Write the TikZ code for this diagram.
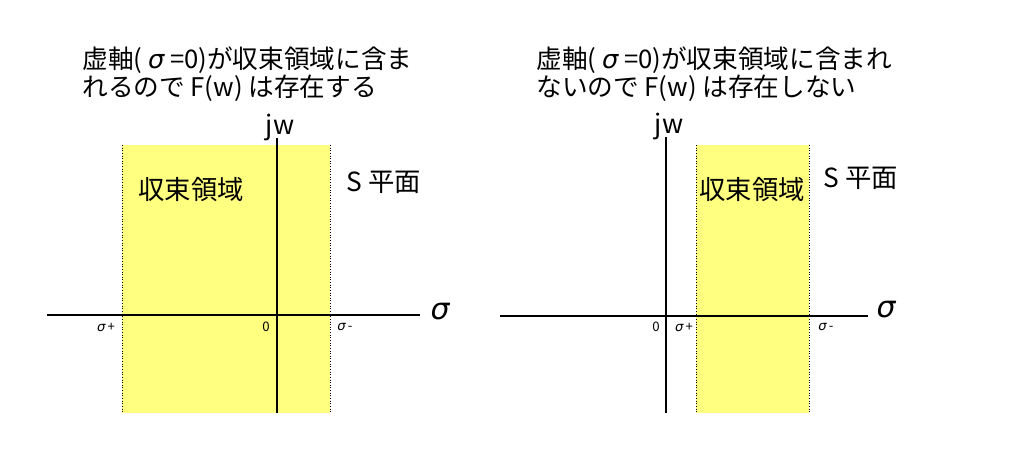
\documentclass[tikz,border=0pt]{standalone}
\usepackage{fontspec}
\setmainfont{Noto Sans CJK JP}
\newfontfamily\greekfont{DejaVu Sans}
\definecolor{roc}{RGB}{255,255,128}
\newcommand{\sig}{{\greekfont\itshape σ}}

\begin{document}
\begin{tikzpicture}[x=0.02cm, y=-0.02cm,
    title/.style={align=left, anchor=west, inner sep=0pt, font=\fontsize{14.6}{16}\selectfont},
    region/.style={fill=roc, draw=none},
    border/.style={densely dotted, line width=0.5pt},
    axis/.style={line width=0.6pt},
    small/.style={font=\fontsize{7.5}{8}\selectfont, inner sep=0pt},
    big/.style={font=\fontsize{15}{16}\selectfont, inner sep=0pt}]
    \useasboundingbox (0,0) rectangle (1021,454);
    % left plane
    \fill[region] (122,145) rectangle (330,413);
    \coordinate (lt1) at (122,145);
    \coordinate (lb1) at (122,413);
    \coordinate (lt2) at (330,145);
    \coordinate (lb2) at (330,413);
    \coordinate (lx1) at (47,315);
    \coordinate (lx2) at (420,315);
    \coordinate (ly1) at (277,138);
    \coordinate (ly2) at (277,413);
    \draw[border] (lt1) -- (lb1);
    \draw[border] (lt2) -- (lb2);
    \draw[axis] (lx1) -- (lx2);
    \draw[axis] (ly1) -- (ly2);
    \node[title] (ltitle) at (82,74) {虚軸( \sig\ =0)が収束領域に含ま\\れるので F(w) は存在する};
    \node[big, font=\fontsize{17}{17}\selectfont] (lsig) at (440,312) {\sig};
    \node[big, anchor=base] (ljw) at (280,134) {jw};
    \node[big] (lroc) at (191,190) {収束領域};
    \node[big] (ls) at (384,182) {S 平面};
    \node[small] (lzero) at (266,327) {0};
    \node[small] (lplus) at (106,327) {\sig\,+};
    \node[small] (lminus) at (345,327) {\sig\,-};
    % right plane
    \fill[region] (696,145) rectangle (809,413);
    \coordinate (rt1) at (696,145);
    \coordinate (rb1) at (696,413);
    \coordinate (rt2) at (809,145);
    \coordinate (rb2) at (809,413);
    \coordinate (rx1) at (500,316);
    \coordinate (rx2) at (868,316);
    \coordinate (ry1) at (666,137);
    \coordinate (ry2) at (666,413);
    \draw[border] (rt1) -- (rb1);
    \draw[border] (rt2) -- (rb2);
    \draw[axis] (rx1) -- (rx2);
    \draw[axis] (ry1) -- (ry2);
    \node[title] (rtitle) at (536,74) {虚軸( \sig\ =0)が収束領域に含まれ\\ないので F(w) は存在しない};
    \node[big, font=\fontsize{17}{17}\selectfont] (rsig) at (886,310) {\sig};
    \node[big, anchor=base] (rjw) at (669,133) {jw};
    \node[big] (rroc) at (752,190) {収束領域};
    \node[big] (rs) at (861,178) {S 平面};
    \node[small] (rzero) at (656,327) {0};
    \node[small] (rplus) at (684,327) {\sig\,+};
    \node[small] (rminus) at (826,327) {\sig\,-};
\end{tikzpicture}
\end{document}
